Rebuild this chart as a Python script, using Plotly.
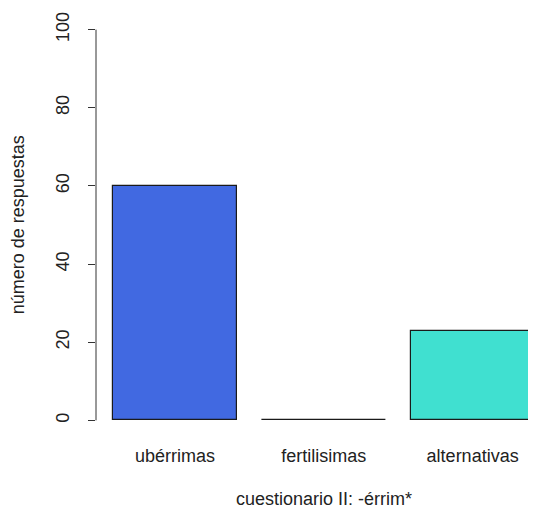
import plotly.graph_objects as go

categories = ["ubérrimas", "fertilisimas", "alternativas"]
values = [60, 0, 23]
bar_colors = ["#4169E1", "#BEBEBE", "#40E0D0"]
y_ticks = [0, 20, 40, 60, 80, 100]
x_title = "cuestionario II: -érrim*"
y_title = "número de respuestas"

FONT = "Liberation Sans, Arial, sans-serif"
TXT = "#222222"
FS = 18

fig = go.Figure()
fig.add_trace(go.Bar(
    x=list(range(len(categories))),
    y=values,
    width=0.833,
    marker=dict(color=bar_colors, line=dict(color="#1a1a1a", width=1.2)),
    hoverinfo="skip",
))

# page body has an 8px margin, so the figure is sized/offset to compensate
fig.update_layout(
    width=520, height=500,
    margin=dict(l=88, r=0, t=6, b=72),
    plot_bgcolor="white", paper_bgcolor="white",
    showlegend=False,
    font=dict(family=FONT, size=FS, color=TXT),
    bargap=0,
)
fig.update_xaxes(
    range=[-0.531, 2.372],
    automargin=False,
    tickmode="array",
    tickvals=list(range(len(categories))),
    ticktext=categories,
    showgrid=False, zeroline=False, showline=False,
    ticks="outside", ticklen=3, tickcolor="rgba(0,0,0,0)",
    tickfont=dict(family=FONT, size=FS, color=TXT),
)
fig.update_yaxes(
    range=[-4, 104],
    automargin=False,
    tickmode="array",
    tickvals=y_ticks,
    ticktext=[str(v) for v in y_ticks],
    tickangle=-90,
    showgrid=False, zeroline=False, showline=False,
    ticks="outside", ticklen=7, tickcolor="#333333", tickwidth=1,
    ticklabelstandoff=12,
    tickfont=dict(family=FONT, size=FS, color=TXT),
)
# R-style axis line spanning only the tick range
fig.add_shape(type="line", xref="paper", yref="y", x0=0, x1=0,
              y0=min(y_ticks), y1=max(y_ticks),
              line=dict(color="#333333", width=1))
fig.add_annotation(text=x_title, xref="x", yref="paper",
                   x=(len(categories) - 1) / 2, y=-0.150, yanchor="middle",
                   showarrow=False, font=dict(family=FONT, size=FS, color=TXT))
fig.add_annotation(text=y_title, xref="paper", yref="paper",
                   x=-0.18, y=0.5, xanchor="center", yanchor="middle",
                   textangle=-90, showarrow=False,
                   font=dict(family=FONT, size=FS, color=TXT))

fig.write_html("out.html")
